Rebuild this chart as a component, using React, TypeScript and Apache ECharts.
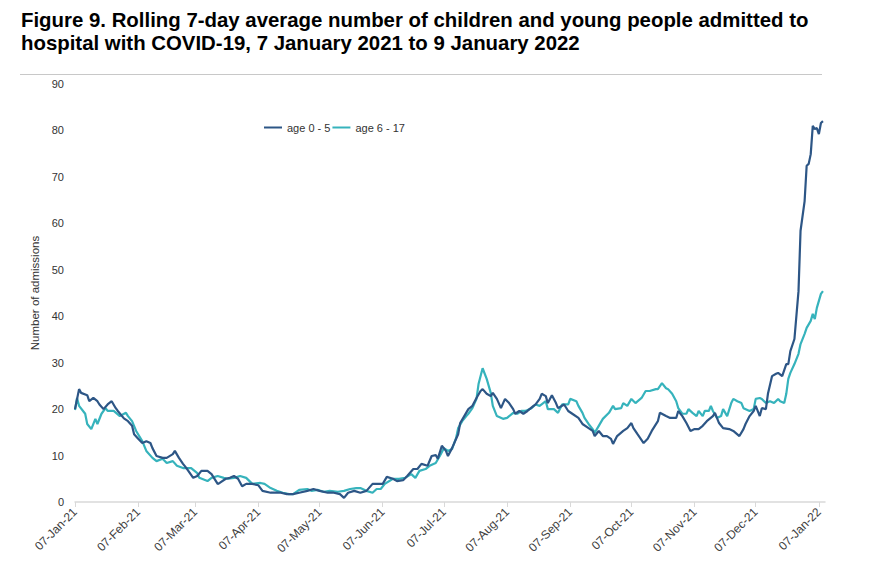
import React, { useEffect, useRef } from "react";
import * as echarts from "echarts";

const titleLines = [
  "Figure 9. Rolling 7-day average number of children and young people admitted to",
  "hospital with COVID-19, 7 January 2021 to 9 January 2022",
];
const seriesNames = ["age 0 - 5", "age 6 - 17"];
const yAxisName = "Number of admissions";

// x = days since 07-Jan-2021
const tickDays = [0, 31, 59, 90, 120, 151, 181, 212, 243, 273, 304, 334, 365];
const tickLabels = [
  "07-Jan-21", "07-Feb-21", "07-Mar-21", "07-Apr-21", "07-May-21", "07-Jun-21",
  "07-Jul-21", "07-Aug-21", "07-Sep-21", "07-Oct-21", "07-Nov-21", "07-Dec-21", "07-Jan-22",
];

const age0to5: [number, number][] = [
  [0,20],[2,24.3],[3,23.5],[6,23],[7,21.7],[9,22.4],[11,21.7],[12,21],[14,20],[16,21],[18,21.7],[20,20.2],[21,19.6],[24,18],[26,17.4],[28,16.4],[29,14.6],[31,13.6],[33,12.7],[35,13.1],[37,12.7],[38,11.6],[40,9.9],[43,9.5],[45,9.5],[48,10.3],[49,11],[51,9.5],[53,8.2],[55,7.1],[58,5.2],[60,5.6],[62,6.7],[65,6.7],[67,6],[70,3.9],[71,4.1],[74,5],[76,5.2],[78,5.6],[80,5],[82,3.4],[84,3.9],[87,3.9],[90,3.6],[92,2.4],[96,2],[101,2],[104,1.7],[107,1.7],[110,2],[114,2.4],[117,2.8],[120,2.4],[124,2],[127,2],[130,1.7],[132,0.9],[134,2],[137,2.4],[140,2],[143,2.4],[146,3.9],[151,3.9],[153,5.4],[156,5],[158,4.5],[161,4.7],[163,5.6],[166,7.1],[168,7.1],[170,8.2],[173,7.8],[175,9.9],[177,10.1],[178,9.3],[180,12.1],[182,11],[183,9.9],[185,11.6],[188,14.6],[189,17],[191,18.5],[193,20],[195,20.7],[197,22.4],[199,23.9],[200,24.3],[202,23.3],[204,22.8],[205,23.5],[207,22.2],[209,20.2],[211,22.2],[213,21.3],[215,20],[216,19],[218,19.6],[220,19],[222,19.6],[225,20.7],[226,21],[228,22.2],[229,23.3],[231,22.8],[232,21.3],[234,23],[236,21.3],[237,20.2],[240,21],[242,19.6],[244,19],[247,18.1],[249,16.8],[252,15.9],[254,15.3],[255,14.2],[257,15.3],[259,14.2],[261,14.2],[263,13.6],[264,12.5],[266,14.2],[269,15.3],[271,15.9],[273,17],[274,15.9],[276,14.6],[279,12.7],[281,13.6],[283,15.3],[286,17.4],[287,19.2],[290,18.5],[292,18.1],[295,18.1],[296,19.6],[298,18.5],[300,17],[302,15.3],[304,15.7],[306,15.7],[308,16.4],[310,17.4],[313,18.5],[314,19.2],[316,17],[318,15.9],[321,15.7],[323,15.3],[326,14.2],[328,15.7],[329,16.8],[331,18.5],[333,19.6],[334,20.7],[336,18.5],[337,20.2],[339,20],[340,23.3],[342,27.1],[344,27.6],[345,27.8],[347,27.1],[349,29.7],[350,29.7],[351,32.5],[353,35.1],[355,45.4],[356,58.4],[358,64.8],[359,72.4],[360,72.8],[361,74.9],[362,81],[363,80.3],[364,80.5],[365,79.2],[366,81.6],[367,82],
];

const age6to17: [number, number][] = [
  [0,19.8],[1,22.4],[2,20.7],[5,19],[6,16.8],[8,15.7],[10,17.9],[11,16.8],[13,19],[15,20.2],[16,19.6],[19,19.6],[22,18.5],[25,19.2],[26,18.5],[28,17.4],[30,15.3],[33,13.1],[35,11],[38,9.5],[40,8.8],[43,9.3],[45,8.4],[48,8.8],[50,7.8],[53,7.3],[55,7.3],[57,7.3],[60,6.2],[61,5.2],[65,4.5],[67,5.2],[70,5.6],[73,5.2],[75,5],[78,5.2],[81,5.6],[84,5.2],[87,3.9],[91,4.1],[93,3.9],[96,3],[99,2.4],[102,2],[105,1.7],[107,1.7],[110,2.6],[114,2.8],[116,2.4],[119,2.6],[122,2.2],[125,2.4],[129,2.2],[132,2.4],[135,2.8],[138,3],[140,3],[143,2.4],[146,2],[148,2.8],[150,2.8],[152,3.9],[156,5],[159,5],[162,5.2],[165,6],[167,5.2],[169,6.7],[172,7.1],[174,7.8],[177,8.4],[179,9.9],[181,11.6],[183,11],[185,11.4],[187,13.8],[188,15.9],[190,17.4],[192,18.5],[193,19],[195,20.2],[197,22.2],[198,25.4],[200,28.8],[202,26.5],[204,23.5],[205,20.7],[207,18.5],[210,17.9],[212,18.1],[215,19.2],[217,19],[219,19.6],[221,19.6],[224,20.2],[226,21],[228,20.7],[231,21.7],[232,20],[235,20],[237,19.2],[239,21],[242,21],[243,22.2],[246,21.7],[247,20.7],[249,19.2],[250,18.1],[252,16.8],[254,15.7],[255,14.9],[257,16.4],[259,17.9],[262,19.2],[264,20.7],[265,20],[268,20.2],[269,21.3],[271,20.7],[273,22.2],[275,21.3],[278,22.4],[280,23.9],[282,23.9],[285,24.3],[286,24.3],[288,25.6],[290,24.5],[291,24.3],[293,23.3],[295,21.7],[296,20.2],[298,19],[300,19],[301,20],[303,19.2],[305,18.5],[306,19.6],[308,18.5],[309,19.6],[311,19.6],[312,20.7],[313,19.6],[315,18.1],[317,18.5],[318,20],[320,18.5],[322,21.3],[323,22.2],[325,21.7],[327,21.3],[328,20.2],[331,19.6],[333,20],[334,22.2],[336,22.4],[337,22.2],[339,21.3],[341,21.7],[343,21.3],[345,22.2],[346,21.7],[348,21.3],[349,23.3],[350,26.5],[351,27.8],[353,29.7],[355,31.9],[356,34],[358,36.2],[359,37.5],[361,39],[362,40.5],[363,39.4],[364,41.8],[366,44.8],[367,45.4],
];

const FONT = "'Liberation Sans', Arial, Helvetica, sans-serif";
const DARK = "#2d5686";
const TEAL = "#36b3bc";

export default function App() {
  const ref = useRef<HTMLDivElement>(null);
  useEffect(() => {
    if (!ref.current) return;
    const chart = echarts.init(ref.current, undefined, { renderer: "svg" });
    chart.setOption({
      animation: false,
      backgroundColor: "#ffffff",
      textStyle: { fontFamily: FONT },
      graphic: [
        {
          type: "text",
          left: 21,
          top: 8,
          style: {
            text: titleLines.join("\n"),
            font: `bold 20.4px ${FONT}`,
            lineHeight: 23,
            fill: "#000000",
          },
        },
        {
          type: "line",
          shape: { x1: 20, y1: 74.5, x2: 822, y2: 74.5 },
          style: { stroke: "#c8c8c8", lineWidth: 1 },
        },
      ],
      legend: {
        left: 259,
        top: 117,
        icon: "rect",
        itemWidth: 18,
        itemHeight: 2,
        itemGap: 2,
        textStyle: { fontSize: 11, color: "#333333", fontFamily: FONT },
        data: seriesNames,
      },
      grid: { left: 75, right: 52, top: 84, bottom: 73, containLabel: false },
      xAxis: {
        type: "value",
        min: 0,
        max: 368,
        splitLine: { show: false },
        axisLine: { show: true, lineStyle: { color: "#d9d9d9", width: 1.5 } },
        axisTick: {
          show: true,
          customValues: tickDays,
          length: 5,
          lineStyle: { color: "#d9d9d9" },
        },
        axisLabel: {
          customValues: tickDays,
          rotate: 45,
          fontSize: 12,
          color: "#404040",
          margin: 8,
          formatter: (v: number) => {
            const i = tickDays.indexOf(Math.round(v));
            return i >= 0 ? tickLabels[i] : "";
          },
        },
      },
      yAxis: {
        type: "value",
        min: 0,
        max: 90,
        interval: 10,
        name: yAxisName,
        nameLocation: "middle",
        nameGap: 23,
        nameTextStyle: { fontSize: 11.5, color: "#333333", fontFamily: FONT },
        splitLine: { show: false },
        axisLine: { show: false },
        axisTick: { show: false },
        axisLabel: { fontSize: 11, color: "#333333", margin: 11 },
      },
      series: [
        {
          name: seriesNames[0],
          type: "line",
          data: age0to5,
          symbol: "none",
          lineStyle: { color: DARK, width: 2.2 },
          itemStyle: { color: DARK },
          z: 3,
        },
        {
          name: seriesNames[1],
          type: "line",
          data: age6to17,
          symbol: "none",
          lineStyle: { color: TEAL, width: 2.2 },
          itemStyle: { color: TEAL },
          z: 2,
        },
      ],
    });
    return () => chart.dispose();
  }, []);
  return (
    <div
      ref={ref}
      style={{ position: "fixed", left: 0, top: 0, width: 877, height: 575 }}
    />
  );
}
